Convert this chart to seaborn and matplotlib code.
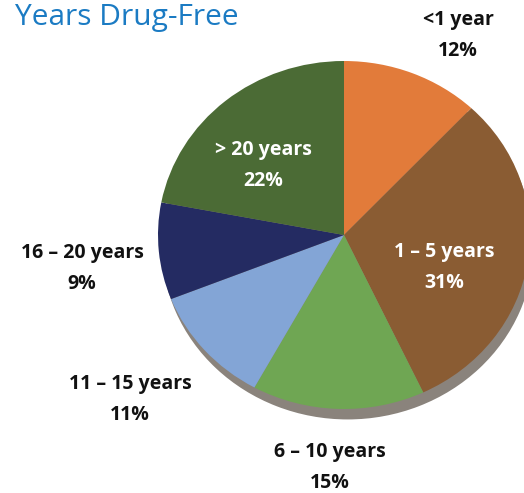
import matplotlib
matplotlib.use("Agg")
import matplotlib.pyplot as plt
import seaborn as sns

# Dados do gráfico
categories = ['<1 year', '1 – 5 years', '6 – 10 years', '11 – 15 years', '16 – 20 years', '> 20 years']
shares = [12, 31, 15, 11, 9, 22]
slice_colors = ['#E27B3A', '#8A5C33', '#6FA653', '#83A5D6', '#242B62', '#4B6B35']
label_colors = ['#111111', 'white', '#111111', '#111111', '#111111', 'white']

sns.set_theme(style="white")
plt.rcParams['font.family'] = ['Open Sans', 'DejaVu Sans']

W, H = 524, 493
fig = plt.figure(figsize=(W / 100, H / 100), dpi=100)
cx, cy, rx, ry = 344, 235, 186, 174
ax = fig.add_axes([(cx - rx) / W, (H - cy - ry) / H, 2 * rx / W, 2 * ry / H])

# sombra / espessura do disco
ax.pie([1], colors=['#2a1d10'], radius=1.0, center=(0.02, -0.06),
       wedgeprops=dict(linewidth=0, alpha=0.55))
ax.pie(shares, colors=sns.color_palette(slice_colors), startangle=90, counterclock=False,
       wedgeprops=dict(linewidth=0))
ax.set_xlim(-1, 1)
ax.set_ylim(-1, 1)
ax.set_aspect('auto')
ax.axis('off')

# posições dos rótulos (pixels)
label_pos = [(458, 20), (444, 252), (330, 452), (130, 384), (82, 253), (263, 150)]
for cat, val, (px, py), c in zip(categories, shares, label_pos, label_colors):
    fig.text(px / W, 1 - py / H, cat, ha='center', va='center', fontsize=14,
             fontweight='bold', color=c)
    fig.text(px / W, 1 - (py + 31) / H, f"{val}%", ha='center', va='center', fontsize=14,
             fontweight='bold', color=c)

fig.text(15 / W, 1 - 18 / H, "Years Drug-Free", ha='left', va='center', fontsize=21.5,
         color='#1B7BC3')

fig.savefig("out.png", dpi=100)
